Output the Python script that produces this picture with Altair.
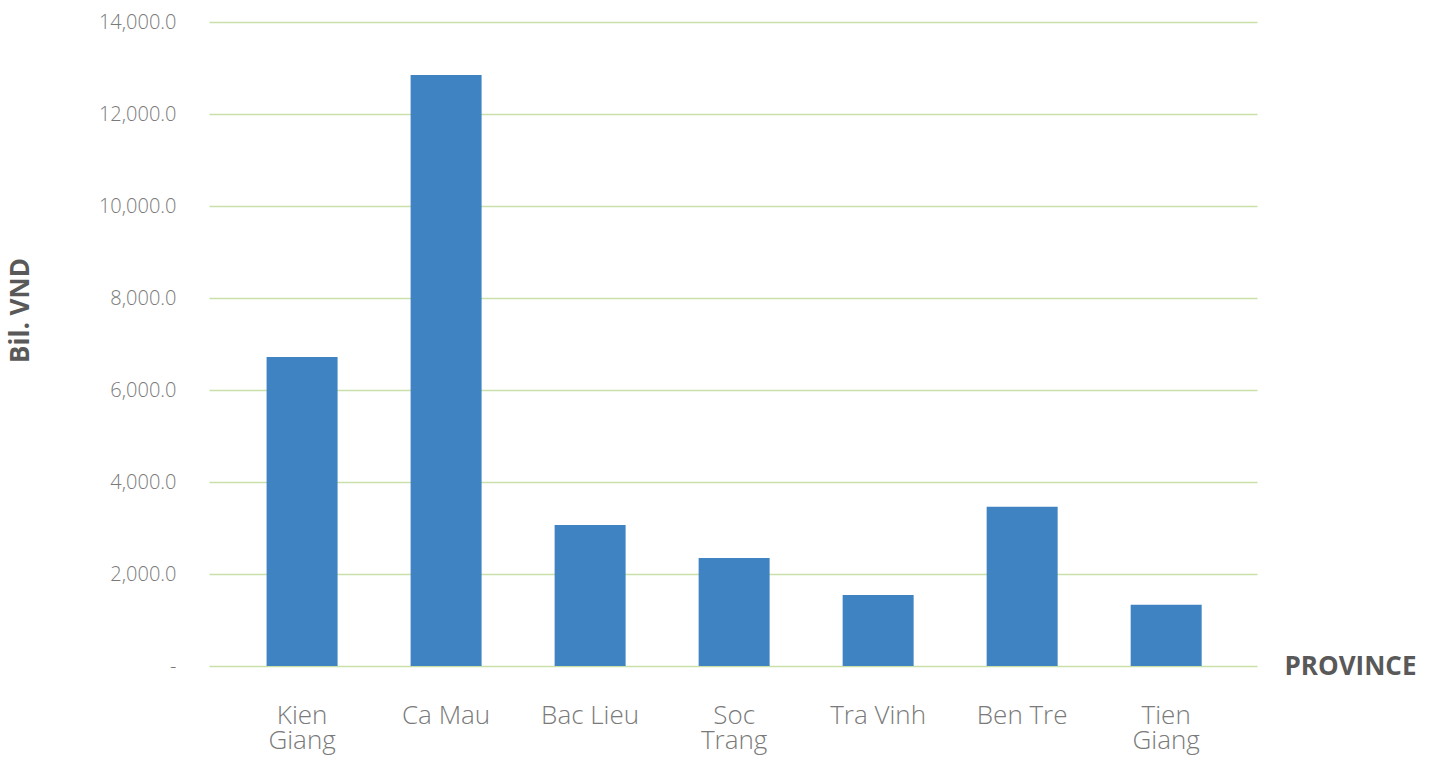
import altair as alt
import pandas as pd

provinces = ["Kien Giang", "Ca Mau", "Bac Lieu", "Soc Trang", "Tra Vinh", "Ben Tre", "Tien Giang"]
values = [6720, 12850, 3065, 2350, 1545, 3460, 1330]
y_ticks = [0, 2000, 4000, 6000, 8000, 10000, 12000, 14000]
wrapped = ["Kien Giang", "Soc Trang", "Tien Giang"]

df = pd.DataFrame({"Province": provinces, "Value": values})

label_expr = (
    "indexof(" + str(wrapped) + ", datum.label) >= 0 ? split(datum.label, ' ') : datum.label"
)

chart = alt.Chart(df).mark_bar(color="#3F83C3").encode(
    x=alt.X(
        "Province:N",
        sort=provinces,
        scale=alt.Scale(paddingInner=0.507, paddingOuter=0.392, align=0.51),
        axis=alt.Axis(
            title="PROVINCE",
            titleFont="Open Sans",
            titleFontSize=26,
            titleFontWeight="bold",
            titleColor="#595959",
            titleX=1075,
            titleY=0,
            titleAlign="left",
            titleBaseline="middle",
            labelFont="Open Sans",
            labelFontSize=26,
            labelFontWeight=300,
            labelColor="#7A7A7A",
            labelAngle=0,
            labelPadding=36,
            labelLineHeight=25,
            labelExpr=label_expr,
            domain=False,
            ticks=False,
        ),
    ),
    y=alt.Y(
        "Value:Q",
        scale=alt.Scale(domain=[0, 14000], nice=False),
        axis=alt.Axis(
            title="Bil. VND",
            titleFont="Open Sans",
            titleFontSize=26,
            titleFontWeight="bold",
            titleColor="#595959",
            titleX=-189,
            titleY=288,
            titleAngle=-90,
            titleAlign="center",
            titleBaseline="middle",
            values=y_ticks,
            labelExpr="datum.value == 0 ? '-' : format(datum.value, ',.1f')",
            labelFont="Open Sans",
            labelFontSize=20,
            labelFontWeight=300,
            labelColor="#7A7A7A",
            labelPadding=33,
            domain=False,
            ticks=False,
            grid=True,
            gridColor="#C9E1A8",
            gridWidth=1.3,
        ),
    ),
).properties(
    width=1048,
    height=644,
    autosize=alt.AutoSizeParams(type="none"),
    padding={"left": 209, "top": 22, "right": 178, "bottom": 92},
).configure_view(stroke=None)

chart.save("out.html", embed_options={"renderer": "svg", "actions": False})
